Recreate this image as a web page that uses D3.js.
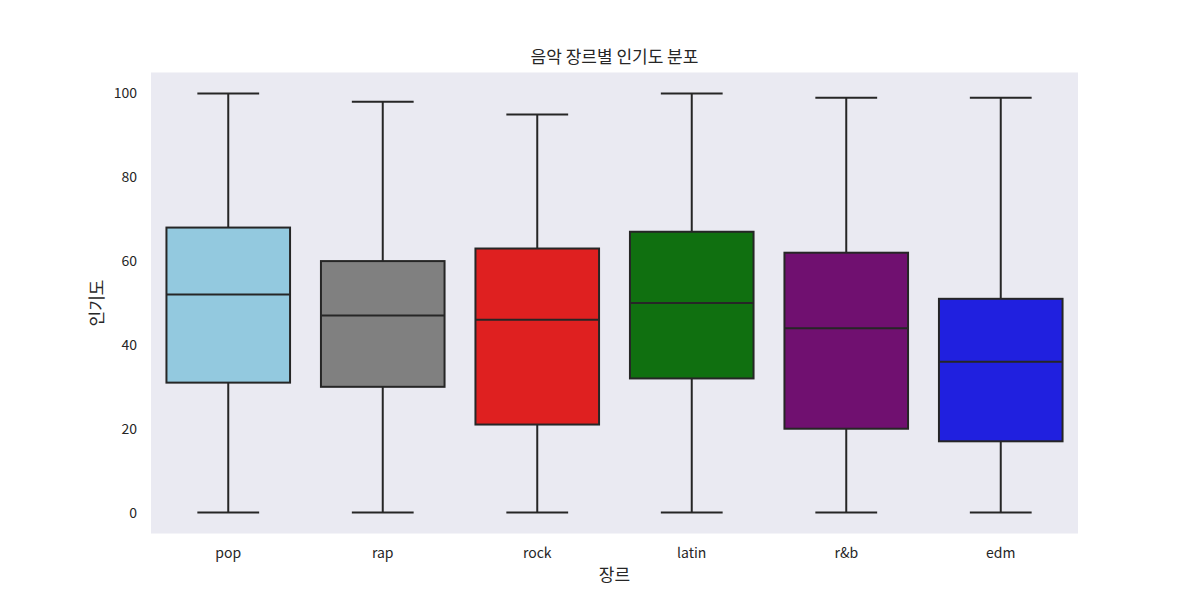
<!DOCTYPE html>
<html><head><meta charset="utf-8">
<script src="https://cdn.jsdelivr.net/npm/d3@7"></script>
<style>body{margin:0;background:#fff;} text{font-family:"Noto Sans CJK KR","Noto Sans",sans-serif;}</style>
</head><body><svg id="c" width="1200" height="600"></svg>
<script>
const genres = ["pop","rap","rock","latin","r&b","edm"];
const colors = ["#93C9DF","#808080","#DF2020","#107010","#701070","#2020DF"];
const whiskerLow = [0,0,0,0,0,0];
const q1 = [31,30,21,32,20,17];
const median = [52,47,46,50,44,36];
const q3 = [68,60,63,67,62,51];
const whiskerHigh = [100,98,95,100,99,99];
const yTicks = [0,20,40,60,80,100];

const svg = d3.select("#c");
const L=151, R=1078, T=72.5, B=533.5;
const x = d3.scaleBand().domain(genres).range([L,R]);
const y = d3.scaleLinear().domain([-5,105]).range([B,T]);
const ink = "#262626";

svg.append("rect").attr("x",L).attr("y",T).attr("width",R-L).attr("height",B-T).attr("fill","#EAEAF2");

const g = svg.append("g");
genres.forEach((k,i)=>{
  const cx = x(k)+x.bandwidth()/2;
  const bw = x.bandwidth()*0.8;
  const cap = bw/2;
  const gg = g.append("g").attr("stroke",ink).attr("stroke-width",2);
  gg.append("line").attr("x1",cx).attr("x2",cx).attr("y1",y(whiskerHigh[i])).attr("y2",y(q3[i]));
  gg.append("line").attr("x1",cx).attr("x2",cx).attr("y1",y(q1[i])).attr("y2",y(whiskerLow[i]));
  gg.append("line").attr("x1",cx-cap/2).attr("x2",cx+cap/2).attr("y1",y(whiskerHigh[i])).attr("y2",y(whiskerHigh[i]));
  gg.append("line").attr("x1",cx-cap/2).attr("x2",cx+cap/2).attr("y1",y(whiskerLow[i])).attr("y2",y(whiskerLow[i]));
  gg.append("rect").attr("x",cx-bw/2).attr("width",bw).attr("y",y(q3[i])).attr("height",y(q1[i])-y(q3[i])).attr("fill",colors[i]);
  gg.append("line").attr("x1",cx-bw/2).attr("x2",cx+bw/2).attr("y1",y(median[i])).attr("y2",y(median[i]));
});

const yAxis = svg.append("g").attr("transform",`translate(${L},0)`)
  .call(d3.axisLeft(y).tickValues(yTicks).tickSize(0).tickPadding(14));
yAxis.select(".domain").remove();
yAxis.selectAll("text").attr("font-size",14).attr("fill",ink);

const xAxis = svg.append("g").attr("transform",`translate(0,${B})`)
  .call(d3.axisBottom(x).tickSize(0).tickPadding(15));
xAxis.select(".domain").remove();
xAxis.selectAll("text").attr("font-size",14).attr("fill",ink);

svg.append("text").attr("x",(L+R)/2).attr("y",63).attr("text-anchor","middle").attr("font-size",17).attr("fill",ink).text("음악 장르별 인기도 분포");
svg.append("text").attr("x",(L+R)/2).attr("y",581).attr("text-anchor","middle").attr("font-size",17).attr("fill",ink).text("장르");
svg.append("text").attr("transform",`translate(103,${(T+B)/2}) rotate(-90)`).attr("text-anchor","middle").attr("font-size",17).attr("fill",ink).text("인기도");
</script></body></html>
